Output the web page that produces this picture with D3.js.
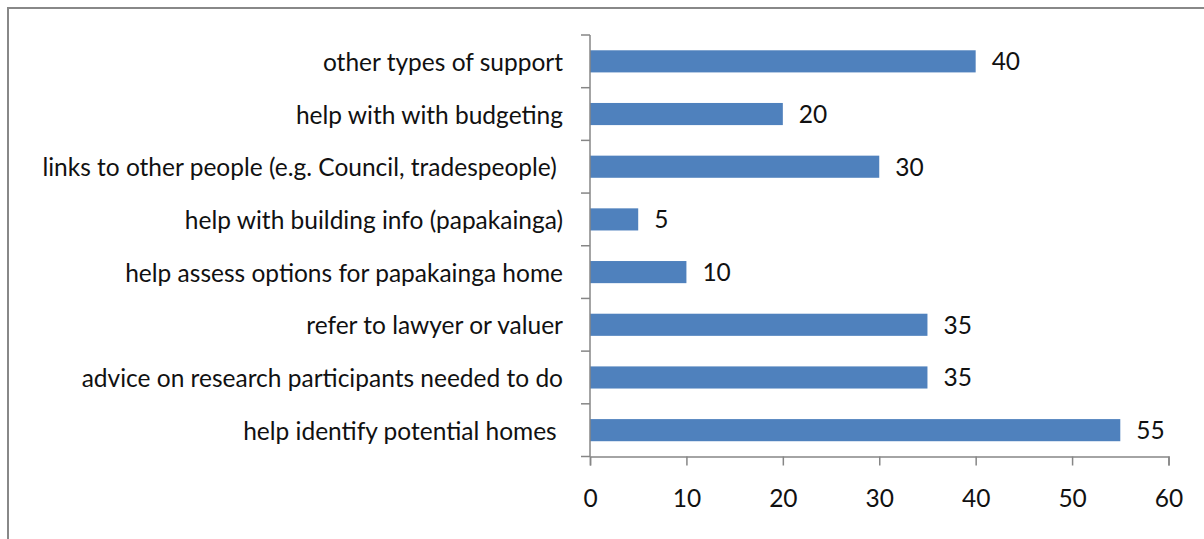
<!DOCTYPE html>
<html>
<head>
<meta charset="utf-8">
<script src="https://cdn.jsdelivr.net/npm/d3@7"></script>
<style>
  html, body { margin: 0; padding: 0; background: #fff; }
  svg { display: block; }
</style>
</head>
<body>
<svg id="chart" width="1204" height="539"></svg>
<script>
// Support types, listed top to bottom
const categories = [
  "other types of support",
  "help with with budgeting",
  "links to other people (e.g. Council, tradespeople) ",
  "help with building info (papakainga)",
  "help assess options for papakainga home",
  "refer to lawyer or valuer",
  "advice on research participants needed to do",
  "help identify potential homes "
];
const counts = [40, 20, 30, 5, 10, 35, 35, 55];
const xTicks = [0, 10, 20, 30, 40, 50, 60];

const svg = d3.select("#chart");
const font = "Lato, 'Open Sans', sans-serif";
const fontSize = 24.5;
const axisColor = "#868686";

// Outer frame
svg.append("rect")
  .attr("x", 8).attr("y", 8)
  .attr("width", 1210).attr("height", 545)
  .attr("fill", "none")
  .attr("stroke", "#888")
  .attr("stroke-width", 2);

const x = d3.scaleLinear().domain([0, 60]).range([590, 1168.5]);
const y = d3.scaleBand().domain(categories).range([35, 456.5]).paddingInner(0.58).paddingOuter(0.29);

// Bars
svg.append("g").selectAll("rect")
  .data(categories)
  .join("rect")
  .attr("x", x(0))
  .attr("y", d => y(d))
  .attr("width", (d, i) => x(counts[i]) - x(0))
  .attr("height", y.bandwidth())
  .attr("fill", "#4F81BD");

// Value labels
svg.append("g").selectAll("text")
  .data(categories)
  .join("text")
  .attr("x", (d, i) => x(counts[i]) + 16)
  .attr("y", d => y(d) + y.bandwidth() / 2 + 9)
  .attr("font-family", font)
  .attr("font-size", fontSize)
  .attr("fill", "#111")
  .text((d, i) => counts[i]);

// Category axis
const yG = svg.append("g").attr("transform", `translate(${x(0)},0)`);
yG.append("line")
  .attr("x1", 0).attr("x2", 0)
  .attr("y1", 35).attr("y2", 456.5)
  .attr("stroke", axisColor).attr("stroke-width", 1.5);
// Tick marks between categories
const [y0, y1] = y.range();
const boundaries = d3.range(categories.length + 1).map(i => y0 + i * ((y1 - y0) / categories.length));
yG.selectAll("line.tick")
  .data(boundaries)
  .join("line")
  .attr("class", "tick")
  .attr("x1", -9).attr("x2", 0)
  .attr("y1", d => d).attr("y2", d => d)
  .attr("stroke", axisColor).attr("stroke-width", 1.5);
yG.selectAll("text")
  .data(categories)
  .join("text")
  .attr("x", -27)
  .attr("y", d => y(d) + y.bandwidth() / 2 + 9.5)
  .attr("text-anchor", "end")
  .attr("font-family", font)
  .attr("font-size", fontSize)
  .attr("fill", "#111")
  .style("white-space", "pre")
  .text(d => d);

// Value axis
const xAxis = d3.axisBottom(x).tickValues(xTicks).tickSize(9).tickPadding(0);
const xG = svg.append("g").attr("transform", "translate(0,456.5)").call(xAxis);
xG.select(".domain").attr("stroke", axisColor).attr("stroke-width", 1.5);
xG.selectAll(".tick line").attr("stroke", axisColor).attr("stroke-width", 1.5);
xG.selectAll(".tick text")
  .attr("y", 50)
  .attr("dy", null)
  .attr("font-family", font)
  .attr("font-size", fontSize)
  .attr("fill", "#111");
</script>
</body>
</html>
